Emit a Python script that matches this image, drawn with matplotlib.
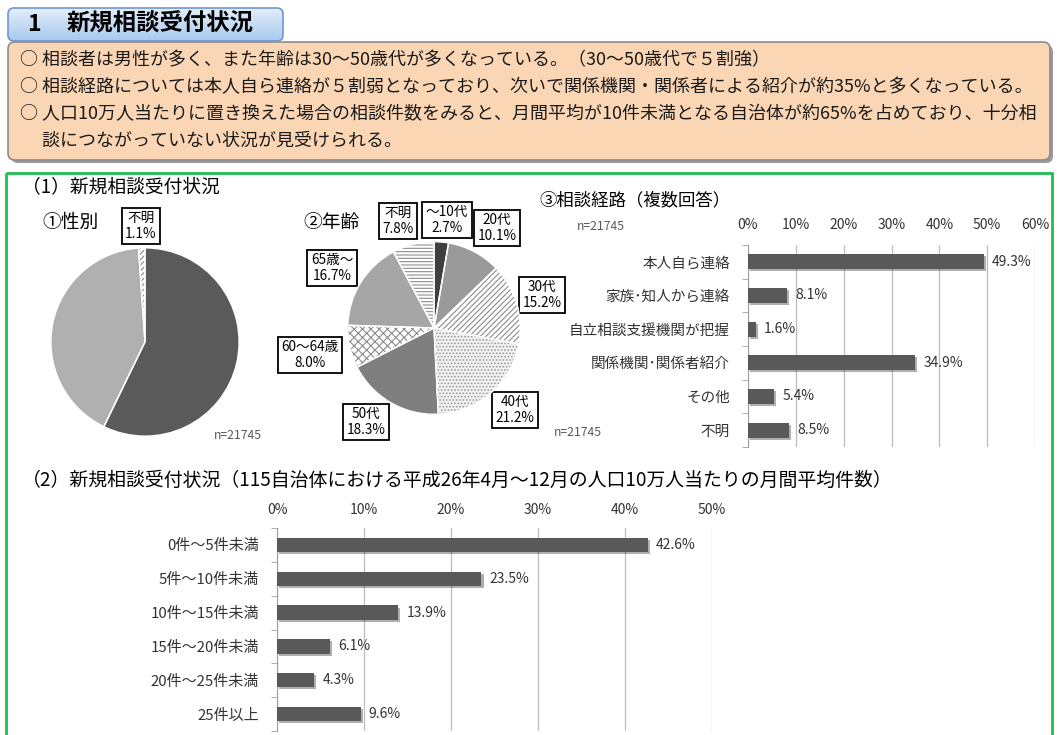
import numpy as np
import matplotlib
matplotlib.use("Agg")
import matplotlib.pyplot as plt
from matplotlib.patches import FancyBboxPatch, Rectangle
from matplotlib.colors import LinearSegmentedColormap
from matplotlib.ticker import PercentFormatter
import matplotlib.patheffects as pe

plt.rcParams['font.family'] = ['Noto Sans CJK JP', 'DejaVu Sans']
plt.rcParams['hatch.linewidth'] = 0.8

# ---- data ----
summary_lines = [
    "○ 相談者は男性が多く、また年齢は30～50歳代が多くなっている。（30～50歳代で５割強）",
    "○ 相談経路については本人自ら連絡が５割弱となっており、次いで関係機関・関係者による紹介が約35%と多くなっている。",
    "○ 人口10万人当たりに置き換えた場合の相談件数をみると、月間平均が10件未満となる自治体が約65%を占めており、十分相",
    "　 談につながっていない状況が見受けられる。",
]

gender_labels = ['男性', '女性', '不明']
gender_values = [57.2, 41.7, 1.1]

age_labels = ['～10代', '20代', '30代', '40代', '50代', '60～64歳', '65歳～', '不明']
age_values = [2.7, 10.1, 15.2, 21.2, 18.3, 8.0, 16.7, 7.8]

route_labels = ['本人自ら連絡', '家族･知人から連絡', '自立相談支援機関が把握',
                '関係機関･関係者紹介', 'その他', '不明']
route_values = [49.3, 8.1, 1.6, 34.9, 5.4, 8.5]

count_labels = ['0件～5件未満', '5件～10件未満', '10件～15件未満',
                '15件～20件未満', '20件～25件未満', '25件以上']
count_values = [42.6, 23.5, 13.9, 6.1, 4.3, 9.6]

sample_n = 21745

# ---- layout helpers (pixel coords, origin top-left) ----
W, H = 1057, 735
fig = plt.figure(figsize=(W / 100, H / 100), dpi=100)


def px_axes(x0, y0, x1, y1):
    return fig.add_axes([x0 / W, 1 - y1 / H, (x1 - x0) / W, (y1 - y0) / H])


bg = fig.add_axes([0, 0, 1, 1])
bg.set_xlim(0, W)
bg.set_ylim(H, 0)
bg.axis('off')

# title tab with blue gradient
tab = FancyBboxPatch((8, 8), 275, 33, boxstyle="round,pad=0,rounding_size=6",
                     fc='none', ec='#6f97cf', lw=1.2, zorder=3)
bg.add_patch(tab)
grad_cmap = LinearSegmentedColormap.from_list('tab', ['#e3eefa', '#a8c9ee'])
grad = np.linspace(0, 1, 64).reshape(-1, 1)
im = bg.imshow(grad, cmap=grad_cmap, extent=[8, 283, 41, 8], aspect='auto', zorder=2)
im.set_clip_path(tab)
bg.set_xlim(0, W)
bg.set_ylim(H, 0)
bg.text(27, 24, "1", fontsize=16.5, fontweight='bold', va='center', ha='left', zorder=4)
bg.text(67, 24, "新規相談受付状況", fontsize=16.8, fontweight='bold', va='center', ha='left', zorder=4)

# summary box
bg.add_patch(FancyBboxPatch((11, 45), 1042, 118, boxstyle="round,pad=0,rounding_size=7",
                            fc='#9a9a9a', ec='none', zorder=1))
bg.add_patch(FancyBboxPatch((8, 42), 1042, 118, boxstyle="round,pad=0,rounding_size=7",
                            fc='#fbd6b5', ec='#8c8c8c', lw=1.2, zorder=2))
for i, line in enumerate(summary_lines):
    bg.text(20, 60 + i * 27, line, fontsize=12.95, va='center', ha='left', color='#1a1a1a', zorder=4)

# green frame
bg.add_patch(Rectangle((6, 173), 1046, 580, fc='none', ec='#1fbf50', lw=2.0, zorder=1))

bg.text(22, 188, "（1）新規相談受付状況", fontsize=13.5, va='center', ha='left')
bg.text(42, 222, "①性別", fontsize=13.5, va='center', ha='left')
bg.text(303, 222, "②年齢", fontsize=13.5, va='center', ha='left')
bg.text(539, 200, "③相談経路（複数回答）", fontsize=12.5, va='center', ha='left')
bg.text(22, 480, "（2）新規相談受付状況（115自治体における平成26年4月～12月の人口10万人当たりの月間平均件数）",
        fontsize=13.6, va='center', ha='left')

ncol = '#595959'
bg.text(238, 435, f"n={sample_n}", fontsize=8.8, color=ncol, va='center', ha='center')
bg.text(578, 432, f"n={sample_n}", fontsize=8.8, color=ncol, va='center', ha='center')
bg.text(601, 226, f"n={sample_n}", fontsize=8.8, color=ncol, va='center', ha='center')

box_style = dict(boxstyle='square,pad=0.25', fc='white', ec='black', lw=1.3)


def draw_pie(ax, values, colors, hatches, hatch_cols):
    wedges, _ = ax.pie(values, startangle=90, counterclock=False, colors=colors,
                       wedgeprops=dict(linewidth=0))
    for w, h, hc in zip(wedges, hatches, hatch_cols):
        if h:
            w.set_hatch(h)
            w.set_edgecolor(hc)
            w.set_linewidth(0)
    ax.pie(values, startangle=90, counterclock=False,
           wedgeprops=dict(fill=False, edgecolor='white', linewidth=1.0))
    ax.set_xlim(-1.02, 1.02)
    ax.set_ylim(-1.02, 1.02)
    ax.set_aspect('equal')
    ax.axis('off')


# pie 1: gender
ax1 = px_axes(145 - 96, 342 - 96, 145 + 96, 342 + 96)
draw_pie(ax1, gender_values, ['#5a5a5a', '#b0b0b0', 'white'],
         [None, None, '//////'], [None, None, '#8a8a8a'])
gender_pos = [(189, 352), (98, 333), (141, 226)]
for lab, val, (x, y) in zip(gender_labels, gender_values, gender_pos):
    bg.text(x, y, f"{lab}\n{val:.1f}%", fontsize=9.8, ha='center', va='center',
            linespacing=1.15, bbox=box_style, zorder=5)

# pie 2: age
ax2 = px_axes(434 - 88, 328 - 88, 434 + 88, 328 + 88)
draw_pie(ax2, age_values,
         ['#3f3f3f', '#9a9a9a', 'white', '#f2f2f2', '#7f7f7f', 'white', '#a6a6a6', 'white'],
         [None, None, '//////', '.....', None, 'xxxx', None, '-----'],
         [None, None, '#8c8c8c', '#9a9a9a', None, '#8c8c8c', None, '#8c8c8c'])
age_pos = [(447, 220), (497, 228), (542, 295), (515, 410),
           (366, 422), (310, 355), (332, 268), (398, 221)]
for lab, val, (x, y) in zip(age_labels, age_values, age_pos):
    bg.text(x, y, f"{lab}\n{val:.1f}%", fontsize=9.8, ha='center', va='center',
            linespacing=1.15, bbox=box_style, zorder=5)


def draw_bars(ax, labels, values, xmax, height, label_size, pad_top):
    n = len(values)
    pos = np.arange(n)
    ax.barh(pos, values, height=height, color='#595959', zorder=3,
            path_effects=[pe.SimplePatchShadow(offset=(1.5, -1.5), alpha=0.35), pe.Normal()])
    ax.set_ylim(n - 0.5, -0.5)
    ax.set_xlim(0, xmax)
    ax.set_xticks(np.arange(0, xmax + 0.1, 10))
    ax.xaxis.set_major_formatter(PercentFormatter(decimals=0))
    ax.tick_params(axis='x', top=True, labeltop=True, bottom=False, labelbottom=False,
                   length=0, pad=pad_top, labelsize=10, labelcolor='#333333')
    ax.set_yticks(pos)
    ax.set_yticklabels(labels, fontsize=label_size, color='#333333')
    ax.set_yticks(np.arange(-0.5, n, 1), minor=True)
    ax.tick_params(axis='y', which='major', length=0, pad=13)
    ax.tick_params(axis='y', which='minor', length=4, color='#a0a0a0')
    ax.grid(axis='x', color='#bdbdbd', lw=0.9, zorder=0)
    for s in ['top', 'right', 'bottom']:
        ax.spines[s].set_visible(False)
    ax.spines['left'].set_color('#a0a0a0')
    ax.set_facecolor('none')
    for i, v in enumerate(values):
        ax.annotate(f"{v:.1f}%", (v, i), xytext=(6, 0), textcoords='offset points',
                    va='center', ha='left', fontsize=10, color='#333333', zorder=4)


ax3 = px_axes(748, 245, 1035, 447)
draw_bars(ax3, route_labels, route_values, 60, 0.45, 10.5, 9)

ax4 = px_axes(277, 528, 712, 731)
draw_bars(ax4, count_labels, count_values, 50, 0.42, 10.8, 8)

fig.savefig("out.png", dpi=100)
